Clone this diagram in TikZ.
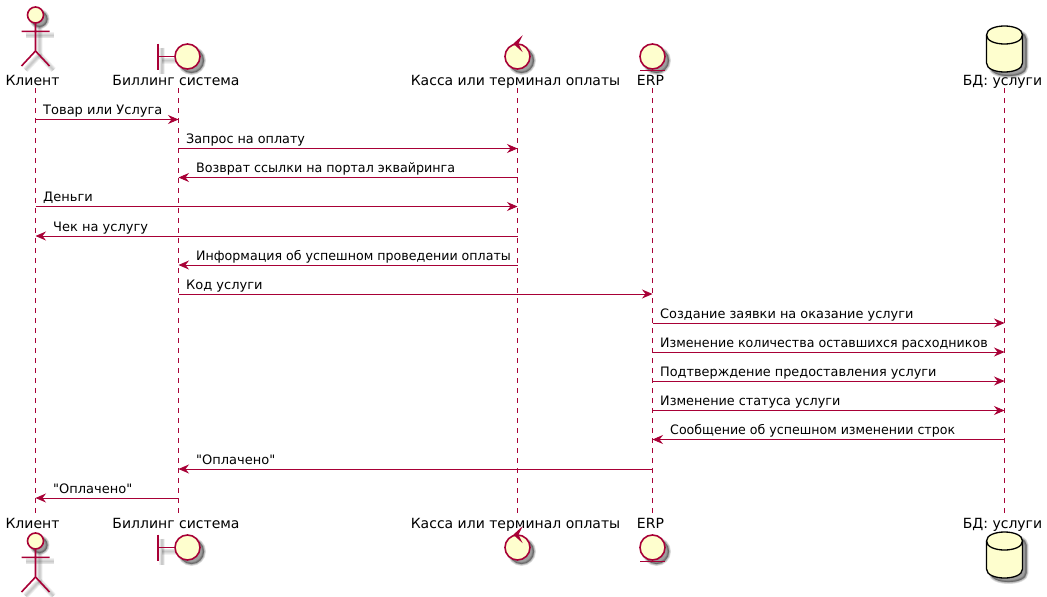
\documentclass[tikz,border=0pt]{standalone}
\usepackage{fontspec}
\setmainfont{DejaVu Sans}
\newfontfamily\plainq{DejaVu Sans}
\usepackage{graphicx}
\usetikzlibrary{arrows.meta}
\definecolor{pu}{HTML}{A80036}
\definecolor{puf}{HTML}{FEFECE}
\tikzset{
  lbl/.style={font=\fontsize{14}{16}\selectfont,anchor=base,inner sep=0pt,text=black},
  mtxt/.style={font=\fontsize{13}{16}\selectfont,anchor=base west,inner sep=0pt,text=black},
  life/.style={draw=pu,line width=0.9pt,dash pattern=on 5pt off 5pt},
  msg/.style={draw=pu,line width=0.9pt,-{Stealth[length=10.5pt,width=9pt,inset=3.5pt,fill=pu]}},
  sym/.style={draw=pu,line width=1.6pt,fill=puf},
  symline/.style={draw=pu,line width=1.6pt},
  blur/.style={draw=black,opacity=.055,line width=#1},
  blurfill/.style={draw=black,fill=black,opacity=.11,line width=#1},
}
% soft drop shadow: stacked translucent strokes
\newcommand\softline[1]{\foreach \w in {6,4.5,3,1.5}{\draw[blur=\w pt] #1;}}
\newcommand\softfill[1]{\foreach \w in {4,2.8,1.6,.4}{\draw[blurfill=\w pt] #1;}}
\newcommand\actorsym[2]{%
  \begin{scope}[shift={(#1,#2)}]
    \softline{(4,27) -- (4,55) -- (-10,70)}
    \softline{(4,55) -- (18,70)}
    \softline{(-10,35.3) -- (18,35.3)}
    \softfill{(4,19) circle (8)}
    \draw[sym] (0,15) circle (8);
    \draw[symline] (0,23) -- (0,51) (0,51) -- (-14,66) (0,51) -- (14,66) (-14,31.3) -- (14,31.3);
  \end{scope}}
\newcommand\boundsym[2]{%
  \begin{scope}[shift={(#1,#2)}]
    \softline{(162,47.5) -- (162,73.5)}
    \softline{(162,60.5) -- (179,60.5)}
    \softfill{(191.5,60.5) circle (12.5)}
    \draw[symline] (158,43.5) -- (158,69.5) (158,56.5) -- (175,56.5);
    \draw[sym] (187.5,56.5) circle (12.5);
  \end{scope}}
\newcommand\ctrlsym[2]{%
  \begin{scope}[shift={(#1,#2)}]
    \softfill{(521.5,60.5) circle (12.5)}
    \draw[sym] (517.5,56.5) circle (12.5);
    \draw[symline,fill=pu,line join=miter] (520,38.7) -- (514.5,43.7) -- (520,48.7) -- (517.5,43.7) -- cycle;
  \end{scope}}
\newcommand\entsym[2]{%
  \begin{scope}[shift={(#1,#2)}]
    \softfill{(656.5,60.5) circle (12.5)}
    \draw[sym] (652.5,56.5) circle (12.5);
    \draw[symline] (640,70.5) -- (665,70.5);
  \end{scope}}
\newcommand\dbsym[2]{%
  \begin{scope}[shift={(#1,#2)}]
    \softfill{(990.5,39) .. controls (990.5,27) and (1026.5,27) .. (1026.5,39) -- (1026.5,67) .. controls (1026.5,79) and (990.5,79) .. (990.5,67) -- cycle}
    \draw[draw=black,line width=1.3pt,fill=puf] (986.5,35) .. controls (986.5,23) and (1022.5,23) .. (1022.5,35) -- (1022.5,63) .. controls (1022.5,75) and (986.5,75) .. (986.5,63) -- cycle;
    \draw[black,line width=1.3pt] (986.5,35) .. controls (986.5,47) and (1022.5,47) .. (1022.5,35);
  \end{scope}}
\newcommand\msgr[6]{% from, to, y, label x, x-scale, label
  \draw[msg] (#1 |- 0,#3) -- (#2 |- 0,#3);
  \node[mtxt] at (#4,#3-5) {\scalebox{#5}[1]{#6}};}
\begin{document}
\begin{tikzpicture}[x=1pt,y=-1pt]
\useasboundingbox (0,0) rectangle (1047,597);
\fill[white] (0,0) rectangle (1047,597);
% lifelines
\foreach \n/\x in {a/35.5,b/178.5,c/517.5,d/652.5,e/1004.5}{
  \coordinate (\n) at (\x,88);
  \coordinate (\n end) at (\x,513);
  \draw[life] (\n) -- (\n end);
}
% symbols
\actorsym{35.5}{0}
\boundsym{0}{0}
\ctrlsym{0}{0}
\entsym{0}{0}
\dbsym{0}{0}
\actorsym{35.5}{526}
\boundsym{0}{491}
\ctrlsym{0}{491}
\entsym{0}{491}
\dbsym{0}{506}
% participant labels
\node[lbl] (a top) at (32.5,85) {Клиент};
\node[lbl] (b top) at (176,85) {Биллинг система};
\node[lbl] (c top) at (515.5,85) {Касса или терминал оплаты};
\node[lbl] (d top) at (650.5,85) {ERP};
\node[lbl] (e top) at (1002.5,85) {БД: услуги};
\node[lbl] (a bot) at (32.5,528) {Клиент};
\node[lbl] (b bot) at (176,528) {Биллинг система};
\node[lbl] (c bot) at (515.5,528) {Касса или терминал оплаты};
\node[lbl] (d bot) at (650.5,528) {ERP};
\node[lbl] (e bot) at (1002.5,528) {БД: услуги};
% messages
\msgr{a}{b}{119.5}{43}{1}{Товар или Услуга}
\msgr{b}{c}{148.5}{186}{.983}{Запрос на оплату}
\msgr{c}{b}{177.5}{196}{.977}{Возврат ссылки на портал эквайринга}
\msgr{a}{c}{206.5}{43}{1}{Деньги}
\msgr{c}{a}{236}{53}{1}{Чек на услугу}
\msgr{c}{b}{265}{196}{.972}{Информация об успешном проведении оплаты}
\msgr{b}{d}{294}{186}{1}{Код услуги}
\msgr{d}{e}{323}{660}{.992}{Создание заявки на оказание услуги}
\msgr{d}{e}{352}{660}{.973}{Изменение количества оставшихся расходников}
\msgr{d}{e}{381}{660}{.989}{Подтверждение предоставления услуги}
\msgr{d}{e}{410.5}{660}{.983}{Изменение статуса услуги}
\msgr{e}{d}{439.5}{670}{.969}{Сообщение об успешном изменении строк}
\msgr{d}{b}{469}{196}{1}{\plainq "Оплачено"}
\msgr{b}{a}{498}{53}{1}{\plainq "Оплачено"}
\end{tikzpicture}
\end{document}
